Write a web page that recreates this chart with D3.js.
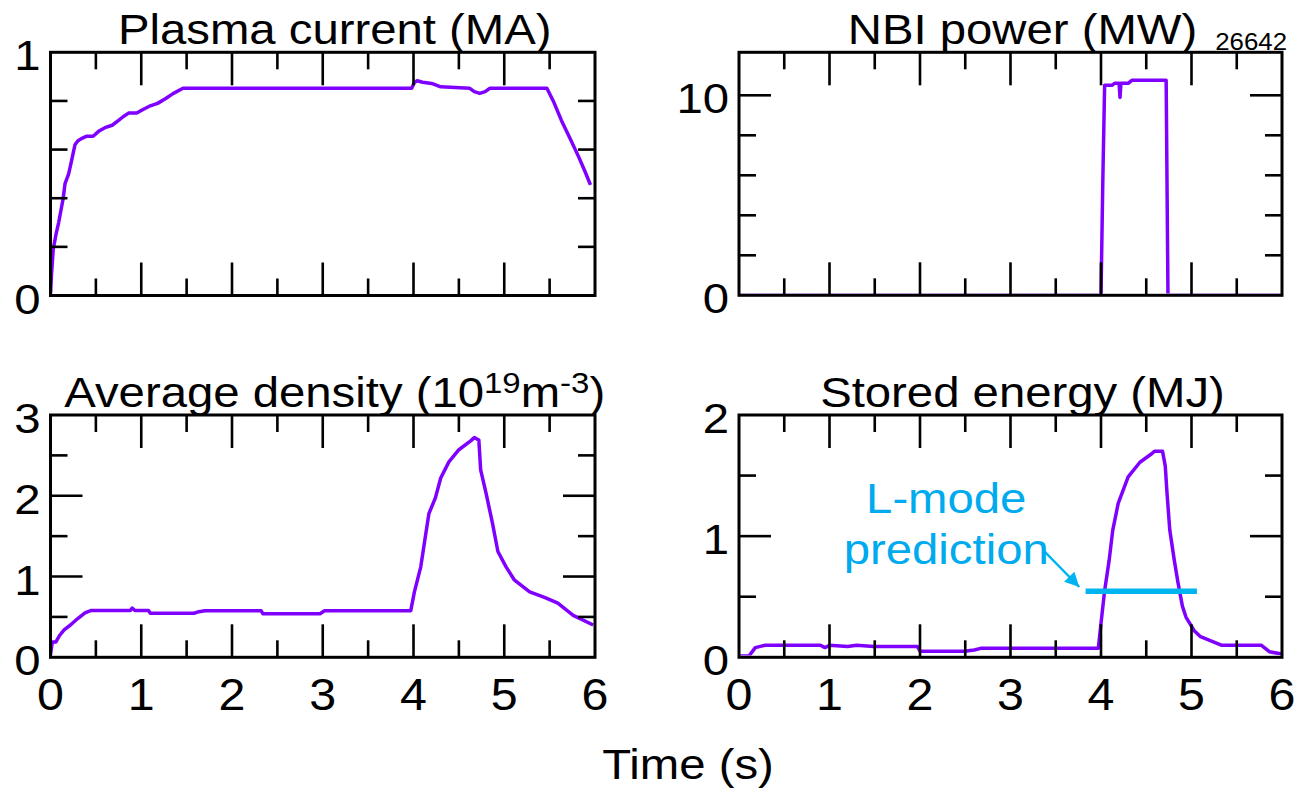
<!DOCTYPE html>
<html>
<head>
<meta charset="utf-8">
<script src="https://cdn.jsdelivr.net/npm/d3@7"></script>
<style>
body { margin: 0; background: #fff; }
svg { display: block; }
text { font-family: 'Liberation Sans', Arial, Helvetica, sans-serif; fill: #000; }
</style>
</head>
<body>
<svg id="main" width="1300" height="789"></svg>
<script>
const width = 1300;
const height = 789;

// time axis (s), shared by all four panels
const timeDomain = [0, 6];
const timeMajor = [1, 2, 3, 4, 5];
const timeMinor = [0.5, 1.5, 2.5, 3.5, 4.5, 5.5];
const timeLabels = [0, 1, 2, 3, 4, 5, 6];

// [time s, value]
const plasmaCurrent = [
    [0, 0], [0.01, 0.08], [0.03, 0.19], [0.06, 0.25], [0.09, 0.3], [0.12, 0.36], [0.14, 0.4],
    [0.16, 0.46], [0.2, 0.5], [0.23, 0.55], [0.27, 0.62], [0.3, 0.635], [0.34, 0.645],
    [0.4, 0.655], [0.47, 0.655], [0.53, 0.675], [0.6, 0.69], [0.68, 0.7], [0.75, 0.72],
    [0.8, 0.735], [0.86, 0.75], [0.95, 0.75], [1.02, 0.765], [1.1, 0.78], [1.18, 0.79],
    [1.27, 0.81], [1.35, 0.83], [1.46, 0.852], [3.98, 0.852], [4.01, 0.876], [4.04, 0.883],
    [4.1, 0.877], [4.2, 0.872], [4.3, 0.858], [4.62, 0.852], [4.67, 0.838], [4.73, 0.831],
    [4.79, 0.838], [4.84, 0.852], [5.47, 0.852], [5.54, 0.8], [5.63, 0.72], [5.72, 0.65],
    [5.82, 0.57], [5.89, 0.51], [5.95, 0.455]
];
const nbiPower = [
    [0, 0], [4.0, 0], [4.02, 5.7], [4.04, 10.5], [4.12, 10.5], [4.15, 10.6], [4.2, 10.6],
    [4.21, 9.9], [4.22, 10.6], [4.3, 10.6], [4.34, 10.75], [4.72, 10.75], [4.74, 0], [6, 0]
];
const avgDensity = [
    [0, 0.03], [0.02, 0.19], [0.06, 0.19], [0.1, 0.27], [0.15, 0.34], [0.22, 0.4], [0.3, 0.48],
    [0.38, 0.55], [0.45, 0.58], [0.88, 0.58], [0.9, 0.61], [0.93, 0.58], [1.08, 0.58],
    [1.1, 0.545], [1.58, 0.545], [1.62, 0.56], [1.7, 0.577], [2.32, 0.577], [2.34, 0.54],
    [2.97, 0.54], [3.02, 0.577], [3.97, 0.577], [4.01, 0.81], [4.08, 1.12], [4.13, 1.49],
    [4.17, 1.78], [4.24, 1.97], [4.3, 2.22], [4.39, 2.42], [4.5, 2.57], [4.63, 2.68],
    [4.67, 2.72], [4.72, 2.69], [4.74, 2.32], [4.8, 2.03], [4.87, 1.66], [4.93, 1.31],
    [5.02, 1.12], [5.11, 0.96], [5.28, 0.81], [5.45, 0.74], [5.59, 0.67], [5.76, 0.52],
    [5.98, 0.4]
];
const storedEnergy = [
    [0, 0.01], [0.11, 0.01], [0.18, 0.08], [0.29, 0.1], [0.9, 0.1], [0.95, 0.08], [1.0, 0.1],
    [1.2, 0.09], [1.3, 0.1], [1.49, 0.09], [1.97, 0.09], [2.0, 0.05], [2.49, 0.05],
    [2.6, 0.06], [2.67, 0.074], [3.97, 0.074], [4.0, 0.28], [4.04, 0.55], [4.09, 0.8],
    [4.13, 1.05], [4.19, 1.27], [4.3, 1.49], [4.43, 1.61], [4.56, 1.68], [4.59, 1.7],
    [4.68, 1.7], [4.71, 1.58], [4.73, 1.35], [4.76, 1.05], [4.81, 0.8], [4.85, 0.62],
    [4.9, 0.42], [4.94, 0.33], [5.03, 0.22], [5.1, 0.17], [5.2, 0.14], [5.33, 0.1],
    [5.77, 0.1], [5.86, 0.046], [6, 0.027]
];

// L-mode prediction bar and its note (stored energy panel)
const lModeSpan = [3.83, 5.06];
const lModeValue = 0.546;
const lModeText = ['L-mode', 'prediction'];
const lModeTextAt = [[2.29, 1.19], [2.29, 0.77]];
const lModeArrow = [[3.38, 0.87], [3.76, 0.58]];

// y axes
const currentDomain = [0, 1], currentLabels = [0, 1], currentMajor = [], currentMinor = [0.2, 0.4, 0.6, 0.8];
const nbiDomain = [0, 12.15], nbiLabels = [0, 10], nbiMajor = [10], nbiMinor = [2, 4, 6, 8];
const densityDomain = [0, 3], densityLabels = [0, 1, 2, 3], densityMajor = [1, 2], densityMinor = [0.5, 1.5, 2.5];
const energyDomain = [0, 2], energyLabels = [0, 1, 2], energyMajor = [1], energyMinor = [0.5, 1.5];

const titles = [
    [['Plasma current (MA)', 0]],
    [['NBI power (MW)', 0]],
    [['Average density (10', 0], ['19', 1], ['m', 0], ['-3', 1], [')', 0]],
    [['Stored energy (MJ)', 0]]
];
const shotNumber = '26642';
const xTitle = 'Time (s)';

const purple = '#7f00ff';
const cyan = '#00b4f0';
const stretch = 1.1;
const fontSize = 43;

const svg = d3.select('#main');
const defs = svg.append('defs');

const panels = [
    { data: plasmaCurrent, domain: currentDomain, labels: currentLabels, major: currentMajor, minor: currentMinor, title: titles[0], left: 50.5, right: 595, top: 52.3, bottom: 295.5, xLabels: false },
    { data: nbiPower, domain: nbiDomain, labels: nbiLabels, major: nbiMajor, minor: nbiMinor, title: titles[1], left: 739, right: 1282, top: 52.3, bottom: 295.3, xLabels: false },
    { data: avgDensity, domain: densityDomain, labels: densityLabels, major: densityMajor, minor: densityMinor, title: titles[2], left: 50.5, right: 595, top: 415, bottom: 657.3, xLabels: true },
    { data: storedEnergy, domain: energyDomain, labels: energyLabels, major: energyMajor, minor: energyMinor, title: titles[3], left: 739, right: 1282, top: 415, bottom: 657.3, xLabels: true }
];

function label(parent, x, y, txt, size, anchor) {
    return parent.append('text')
        .attr('transform', `translate(${x}, ${y}) scale(${stretch}, 1)`)
        .attr('text-anchor', anchor)
        .attr('font-size', size)
        .text(txt);
}

panels.forEach((p, i) => {
    const g = svg.append('g');
    const x = d3.scaleLinear().domain(timeDomain).range([p.left, p.right]);
    const y = d3.scaleLinear().domain(p.domain).range([p.bottom, p.top]);
    p.x = x;
    p.y = y;

    // keep the trace inside the frame so zero stretches hide under the axis
    defs.append('clipPath').attr('id', `clip${i}`)
        .append('rect')
        .attr('x', p.left).attr('y', p.top)
        .attr('width', p.right - p.left).attr('height', p.bottom - p.top - 1.9);

    const line = d3.line().x(d => x(d[0])).y(d => y(d[1]));
    g.append('path')
        .attr('d', line(p.data))
        .attr('clip-path', `url(#clip${i})`)
        .attr('fill', 'none')
        .attr('stroke', purple)
        .attr('stroke-width', 3.5)
        .attr('stroke-linejoin', 'round');

    // inward ticks on all four sides
    const ticks = g.append('g').attr('stroke', '#000').attr('stroke-width', 2.6);
    const xt = timeMajor.map(v => [v, 33]).concat(timeMinor.map(v => [v, 17]));
    xt.forEach(([v, len]) => {
        ticks.append('line').attr('x1', x(v)).attr('x2', x(v)).attr('y1', p.bottom).attr('y2', p.bottom - len);
        ticks.append('line').attr('x1', x(v)).attr('x2', x(v)).attr('y1', p.top).attr('y2', p.top + len);
    });
    const yt = p.major.map(v => [v, 32]).concat(p.minor.map(v => [v, 17]));
    yt.forEach(([v, len]) => {
        ticks.append('line').attr('y1', y(v)).attr('y2', y(v)).attr('x1', p.left).attr('x2', p.left + len);
        ticks.append('line').attr('y1', y(v)).attr('y2', y(v)).attr('x1', p.right).attr('x2', p.right - len);
    });

    g.append('rect')
        .attr('x', p.left).attr('y', p.top)
        .attr('width', p.right - p.left).attr('height', p.bottom - p.top)
        .attr('fill', 'none').attr('stroke', '#000').attr('stroke-width', 3);

    p.labels.forEach(v => label(g, p.left - 10, y(v) + 18, v, fontSize, 'end'));
    if (p.xLabels) {
        timeLabels.forEach(v => label(g, x(v), p.bottom + 53, v, fontSize + 1, 'middle'));
    }

    const t = g.append('text')
        .attr('transform', `translate(${(p.left + p.right) / 2 + 12}, ${p.top - 8}) scale(${stretch}, 1)`)
        .attr('text-anchor', 'middle')
        .attr('font-size', fontSize);
    let raised = 0;
    p.title.forEach(([txt, sup]) => {
        const dy = sup === raised ? 0 : (sup ? -14 : 14);
        raised = sup;
        t.append('tspan')
            .attr('dy', dy)
            .attr('font-size', sup ? 30 : fontSize)
            .text(txt);
    });
});

// shot number
label(svg, 1287, 50, shotNumber, 23.5, 'end');

// x-axis title
label(svg, 688, 779, xTitle, fontSize, 'middle');

// L-mode prediction annotation
const ep = panels[3];
defs.append('marker')
    .attr('id', 'head')
    .attr('viewBox', '0 0 10 10')
    .attr('refX', 10).attr('refY', 5)
    .attr('markerWidth', 7).attr('markerHeight', 6)
    .attr('markerUnits', 'strokeWidth')
    .attr('orient', 'auto')
    .append('path').attr('d', 'M0,0 L10,5 L0,10 Z').attr('fill', cyan);

svg.append('line')
    .attr('x1', ep.x(lModeSpan[0])).attr('x2', ep.x(lModeSpan[1]))
    .attr('y1', ep.y(lModeValue)).attr('y2', ep.y(lModeValue))
    .attr('stroke', cyan).attr('stroke-width', 5.5);

svg.append('line')
    .attr('x1', ep.x(lModeArrow[0][0])).attr('y1', ep.y(lModeArrow[0][1]))
    .attr('x2', ep.x(lModeArrow[1][0])).attr('y2', ep.y(lModeArrow[1][1]))
    .attr('stroke', cyan).attr('stroke-width', 2.4)
    .attr('marker-end', 'url(#head)');

lModeText.forEach((txt, i) => {
    label(svg, ep.x(lModeTextAt[i][0]), ep.y(lModeTextAt[i][1]), txt, fontSize, 'middle')
        .style('fill', '#00aaee');
});
</script>
</body>
</html>
